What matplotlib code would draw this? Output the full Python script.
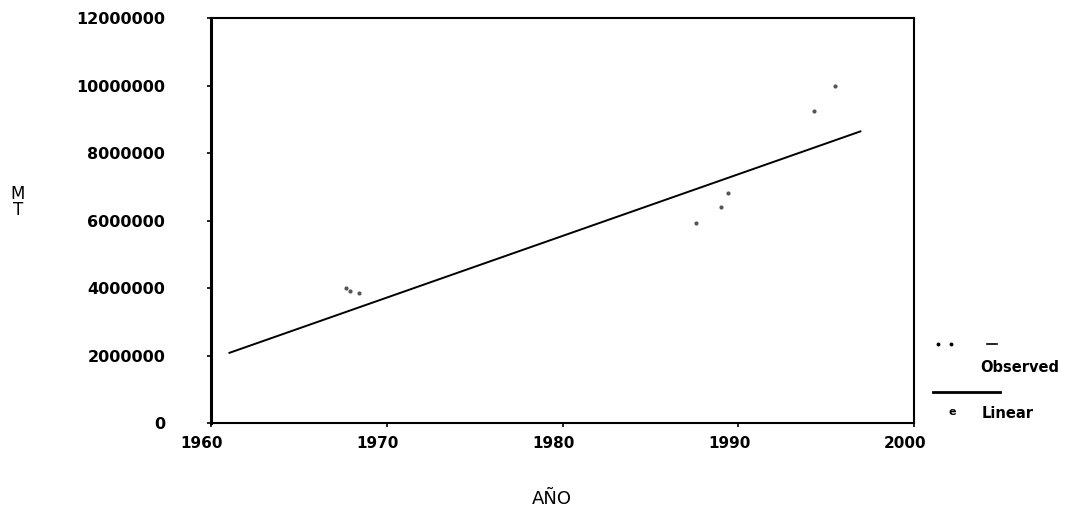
import matplotlib
matplotlib.use("Agg")
import matplotlib.pyplot as plt
import matplotlib.transforms as mtransforms
from matplotlib.lines import Line2D

# Data
fit_years = [1961, 1997]
fit_values = [2070000, 8650000]

obs_years = [1967.7, 1967.9, 1968.4, 1987.6, 1989.0, 1989.4, 1994.3, 1995.5]
obs_values = [4000000, 3900000, 3850000, 5930000, 6400000, 6810000, 9240000, 9990000]

x_ticks = [1960, 1970, 1980, 1990, 2000]
y_ticks = [0, 2000000, 4000000, 6000000, 8000000, 10000000, 12000000]
y_ticklabels = ["0", "2000000", "4000000", "6000000", "8000000", "10000000", "12000000"]

fig = plt.figure(figsize=(10.78, 5.16), dpi=100)
ax = fig.add_axes([0.1957, 0.1802, 0.8479 - 0.1957, 0.9651 - 0.1802])

ax.plot(fit_years, fit_values, color="black", lw=1.4, solid_capstyle="butt")
ax.scatter(obs_years, obs_values, s=4, color="#555555", zorder=3)

ax.set_xlim(1960, 2000)
ax.set_ylim(0, 12000000)
ax.set_xticks(x_ticks)
ax.set_xticklabels([str(v) for v in x_ticks], fontsize=11, fontweight="bold")
ax.set_yticks(y_ticks)
ax.set_yticklabels(y_ticklabels, fontsize=11.5, fontweight="bold")
ax.tick_params(axis="y", direction="out", length=3, width=1.2, pad=30)
ax.tick_params(axis="x", direction="out", length=3, width=1.2, pad=6)

offset = mtransforms.ScaledTranslation(-9 / 100, 0, fig.dpi_scale_trans)
for lab in ax.get_xticklabels():
    lab.set_transform(lab.get_transform() + offset)

for s in ax.spines.values():
    s.set_linewidth(1.5)
ax.spines["left"].set_linewidth(2.2)

fig.text(552 / 1078, 1 - 499 / 516, "AÑO", ha="center", va="center", fontsize=13)
fig.text(18 / 1078, 1 - 202 / 516, "M\nT", ha="center", va="center", fontsize=12, linespacing=0.9)

# Legend (drawn in figure coordinates)
W, H = 1078, 516
fig.add_artist(Line2D([938 / W, 951 / W], [1 - 344 / H] * 2, color="black", lw=0,
                      marker="o", markersize=1.8))
fig.add_artist(Line2D([987 / W, 997 / W], [1 - 344 / H] * 2, color="black", lw=1.2))
fig.text(980 / W, 1 - 367 / H, "Observed", ha="left", va="center", fontsize=10.5, fontweight="bold")
fig.add_artist(Line2D([933 / W, 1000 / W], [1 - 392 / H] * 2, color="black", lw=2))
fig.text(952 / W, 1 - 412 / H, "e", ha="center", va="center", fontsize=8, fontweight="bold")
fig.text(982 / W, 1 - 413 / H, "Linear", ha="left", va="center", fontsize=10.5, fontweight="bold")

fig.savefig("out.png", dpi=100)
